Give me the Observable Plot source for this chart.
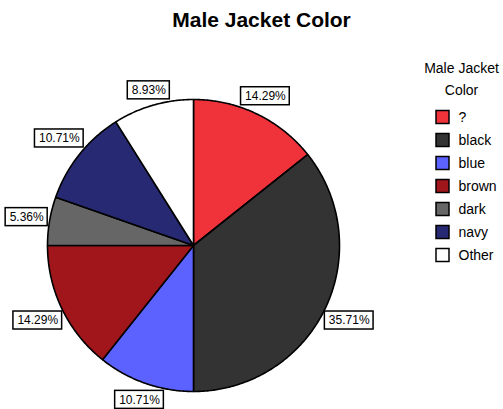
<!DOCTYPE html>
<html><head><meta charset="utf-8">
<script src="https://cdn.jsdelivr.net/npm/d3@7"></script>
<script src="https://cdn.jsdelivr.net/npm/@observablehq/plot@0.6"></script>
<style>body{margin:0;background:#fff;} svg{display:block;}</style>
</head><body><div id="chart"></div>
<script>
// ---- data ----
const chartTitle = "Male Jacket Color";
const legendTitleLines = ["Male Jacket", "Color"];
const categories = ["?", "black", "blue", "brown", "dark", "navy", "Other"];
const percents = [14.29, 35.71, 10.71, 14.29, 5.36, 10.71, 8.93];
const colors = ["#f0333b", "#333333", "#5c62ff", "#a1161b", "#666666", "#272a73", "#ffffff"];

// ---- layout (pixels) ----
const W = 503, H = 409;
const R = 146, CX = 193, CY = 245;
const X = px => (px - CX) / R;
const Y = py => (CY - py) / R;
const font = "'Liberation Sans', Arial, sans-serif";

// slices as polygons in unit-circle coordinates (angle clockwise from top)
const total = d3.sum(percents);
let acc = 0;
const slicePts = [];
const labels = [];
const ctx = document.createElement("canvas").getContext("2d");
ctx.font = "12px 'Liberation Sans'";
categories.forEach((c, i) => {
  const a0 = acc / total * 2 * Math.PI;
  acc += percents[i];
  const a1 = acc / total * 2 * Math.PI;
  const n = Math.max(2, Math.ceil((a1 - a0) / (Math.PI / 360)));
  slicePts.push({label: c, x: 0, y: 0});
  for (let k = 0; k <= n; k++) {
    const a = a0 + (a1 - a0) * k / n;
    slicePts.push({label: c, x: Math.sin(a), y: Math.cos(a)});
  }
  slicePts.push({label: c, x: 0, y: 0});
  const text = percents[i].toFixed(2) + "%";
  const m = (a0 + a1) / 2;
  const hw = (ctx.measureText(text).width / 2 + 4) / R;
  const hh = 9 / R;
  const d = 1 + hw * Math.abs(Math.sin(m)) + hh * Math.abs(Math.cos(m)) + 1 / R;
  const x = d * Math.sin(m), y = d * Math.cos(m);
  labels.push({text, x, y, x1: x - hw, x2: x + hw, y1: y - hh, y2: y + hh});
});

const legendItems = categories.map((c, i) => {
  const py = 117 + 23 * i;
  return {label: c, py, x1: X(436), x2: X(449), y1: Y(py + 6.5), y2: Y(py - 6.5), tx: X(458), ty: Y(py)};
});

const chart = Plot.plot({
  width: W, height: H, margin: 0,
  x: {domain: [X(0), X(W)], axis: null},
  y: {domain: [Y(H), Y(0)], axis: null},
  color: {type: "ordinal", domain: categories, range: colors},
  style: {fontFamily: font, background: "white"},
  marks: [
    Plot.line(slicePts, {x: "x", y: "y", z: "label", fill: "label", stroke: "black", strokeWidth: 1.6, strokeLinejoin: "round"}),
    Plot.rect(labels, {x1: "x1", x2: "x2", y1: "y1", y2: "y2", fill: "white", stroke: "black", strokeWidth: 1.5}),
    Plot.text(labels, {x: "x", y: "y", text: "text", fontSize: 12, fill: "black"}),
    Plot.text([chartTitle], {x: X(261), y: Y(20), text: d => d, fontSize: 21, fontWeight: "bold", fill: "black", letterSpacing: "1px"}),
    Plot.text(legendTitleLines, {x: X(461), y: (d, i) => Y(68 + 22 * i), text: d => d, fontSize: 14, fill: "black", letterSpacing: "0.4px"}),
    Plot.rect(legendItems, {x1: "x1", x2: "x2", y1: "y1", y2: "y2", fill: "label", stroke: "black", strokeWidth: 1.5}),
    Plot.text(legendItems, {x: "tx", y: "ty", text: "label", textAnchor: "start", fontSize: 14, fill: "black", letterSpacing: "0.4px"})
  ]
});
document.getElementById("chart").append(chart);
</script>
</body></html>
